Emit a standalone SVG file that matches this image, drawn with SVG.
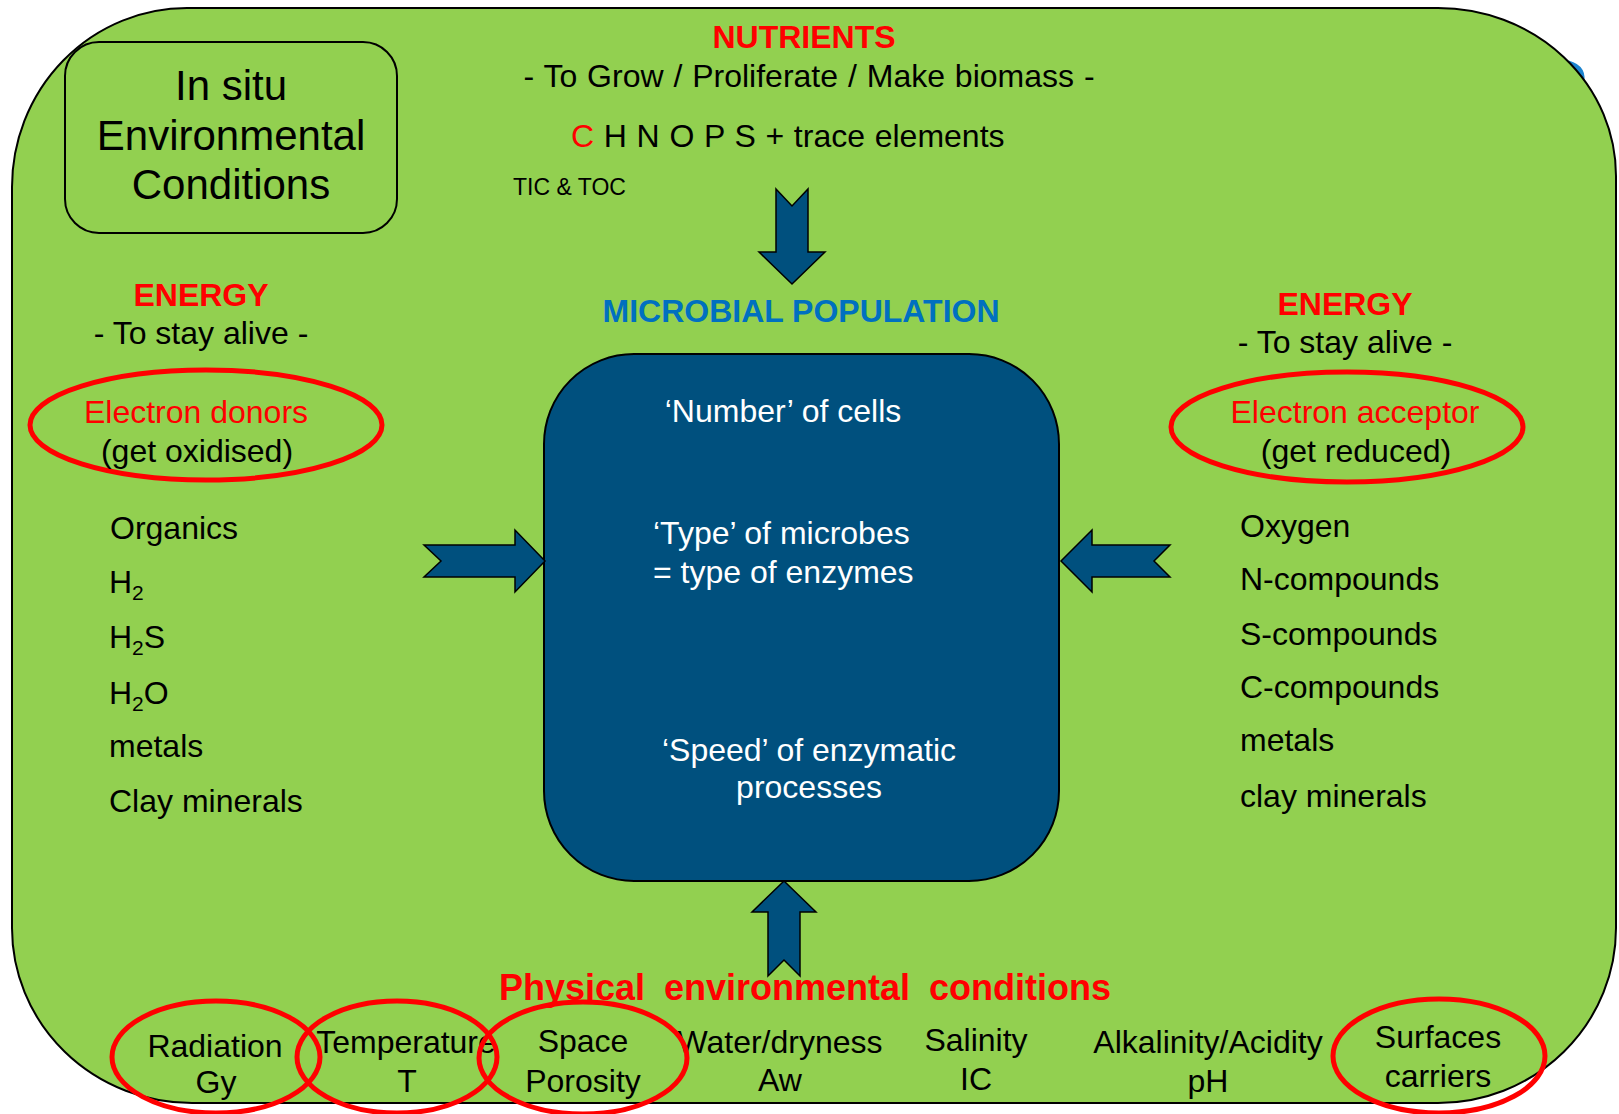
<svg xmlns="http://www.w3.org/2000/svg" width="1619" height="1114" viewBox="0 0 1619 1114">
<style>
text{font-family:"Liberation Sans",Arial,sans-serif;font-size:32px;fill:#000}
.red{fill:#FF0000}
.b{font-weight:bold}
.w{fill:#FFFFFF}
.c{text-anchor:middle}
.ring{fill:none;stroke:#FF0000;stroke-width:5}
.arrow{fill:#00507E;stroke:#000;stroke-width:1.5;stroke-linejoin:miter}
</style>
<rect width="1619" height="1114" fill="#FFFFFF"/>
<path d="M1568 63 Q1586 68 1581 86" fill="none" stroke="#1B84CF" stroke-width="5"/>
<g id="background">
<path d="M187 8 H1438 A178 168 0 0 1 1616 176 V928 A178 175 0 0 1 1438 1103 H192 A180 175 0 0 1 12 928 V187 A175 179 0 0 1 187 8 Z" fill="#92D050" stroke="#000" stroke-width="2"/>
</g>
<g id="title">
<rect x="65" y="42" width="332" height="191" rx="34" fill="none" stroke="#000" stroke-width="2"/>
<text class="c" x="231" y="100" style="font-size:42px">In situ</text>
<text class="c" x="231" y="150" style="font-size:42px">Environmental</text>
<text class="c" x="231" y="199" style="font-size:42px">Conditions</text>
</g>
<g id="nutrients">
<text class="c red b" x="804" y="48">NUTRIENTS</text>
<text class="c" x="809" y="87" style="word-spacing:1px">- To Grow / Proliferate / Make biomass -</text>
<text x="571" y="147" style="word-spacing:0.8px"><tspan class="red">C</tspan> H N O P S + trace elements</text>
<text x="513" y="195" style="font-size:23px">TIC &amp; TOC</text>
</g>
<g id="energy-left">
<text class="c red b" x="201" y="306">ENERGY</text>
<text class="c" x="201" y="344">- To stay alive -</text>
<ellipse class="ring" cx="206" cy="425" rx="176" ry="55"/>
<text class="c red" x="196" y="423">Electron donors</text>
<text class="c" x="197" y="462">(get oxidised)</text>
<text x="110" y="539">Organics</text>
<text x="109" y="593">H<tspan dy="7" style="font-size:21px">2</tspan></text>
<text x="109" y="648">H<tspan dy="7" style="font-size:21px">2</tspan><tspan dy="-7">S</tspan></text>
<text x="109" y="704">H<tspan dy="7" style="font-size:21px">2</tspan><tspan dy="-7">O</tspan></text>
<text x="109" y="757">metals</text>
<text x="109" y="812">Clay minerals</text>
</g>
<g id="energy-right">
<text class="c red b" x="1345" y="315">ENERGY</text>
<text class="c" x="1345" y="353">- To stay alive -</text>
<ellipse class="ring" cx="1347" cy="427" rx="176" ry="55"/>
<text class="c red" x="1355" y="423">Electron acceptor</text>
<text class="c" x="1356" y="462">(get reduced)</text>
<text x="1240" y="537">Oxygen</text>
<text x="1240" y="590">N-compounds</text>
<text x="1240" y="645">S-compounds</text>
<text x="1240" y="698">C-compounds</text>
<text x="1240" y="751">metals</text>
<text x="1240" y="807">clay minerals</text>
</g>
<g id="microbial-population">
<text class="c b" x="801" y="322" style="fill:#0070C0">MICROBIAL POPULATION</text>
<rect x="544" y="354" width="515" height="527" rx="90" fill="#00507E" stroke="#000" stroke-width="2"/>
<text class="c w" x="783" y="422">‘Number’ of cells</text>
<text class="w" x="653" y="544">‘Type’ of microbes</text>
<text class="w" x="653" y="583">= type of enzymes</text>
<text class="c w" x="809" y="761">‘Speed’ of enzymatic</text>
<text class="c w" x="809" y="798">processes</text>
</g>
<g id="connectors">
<path class="arrow" d="M776 189 L792 206 L808 189 L808 252 L825 252 L792 284 L759 252 L776 252 Z"/>
<path class="arrow" d="M424 545 L515 545 L515 530 L545 561 L515 592 L515 577 L424 577 L441 561 Z"/>
<path class="arrow" d="M1170 545 L1092 545 L1092 530 L1061 561 L1092 592 L1092 577 L1170 577 L1154 561 Z"/>
<path class="arrow" d="M768 976 L768 912 L752 912 L784 881 L816 912 L800 912 L800 976 L784 960 Z"/>
</g>
<g id="physical-conditions">
<text class="c red b" x="805" y="1000" style="font-size:36px;word-spacing:9px">Physical environmental conditions</text>
<text class="c" x="215" y="1057">Radiation</text>
<text class="c" x="216" y="1093">Gy</text>
<text class="c" x="406" y="1053">Temperature</text>
<text class="c" x="407" y="1092">T</text>
<text class="c" x="583" y="1052">Space</text>
<text class="c" x="583" y="1092">Porosity</text>
<text class="c" x="780" y="1053">Water/dryness</text>
<text class="c" x="780" y="1091">Aw</text>
<text class="c" x="976" y="1051">Salinity</text>
<text class="c" x="976" y="1090">IC</text>
<text class="c" x="1208" y="1053">Alkalinity/Acidity</text>
<text class="c" x="1208" y="1092">pH</text>
<text class="c" x="1438" y="1048">Surfaces</text>
<text class="c" x="1438" y="1087">carriers</text>
<ellipse class="ring" cx="216" cy="1057" rx="104" ry="56"/>
<ellipse class="ring" cx="397" cy="1057" rx="100" ry="56"/>
<ellipse class="ring" cx="583" cy="1058" rx="104" ry="56"/>
<ellipse class="ring" cx="1439" cy="1056" rx="106" ry="57"/>
</g>
</svg>
